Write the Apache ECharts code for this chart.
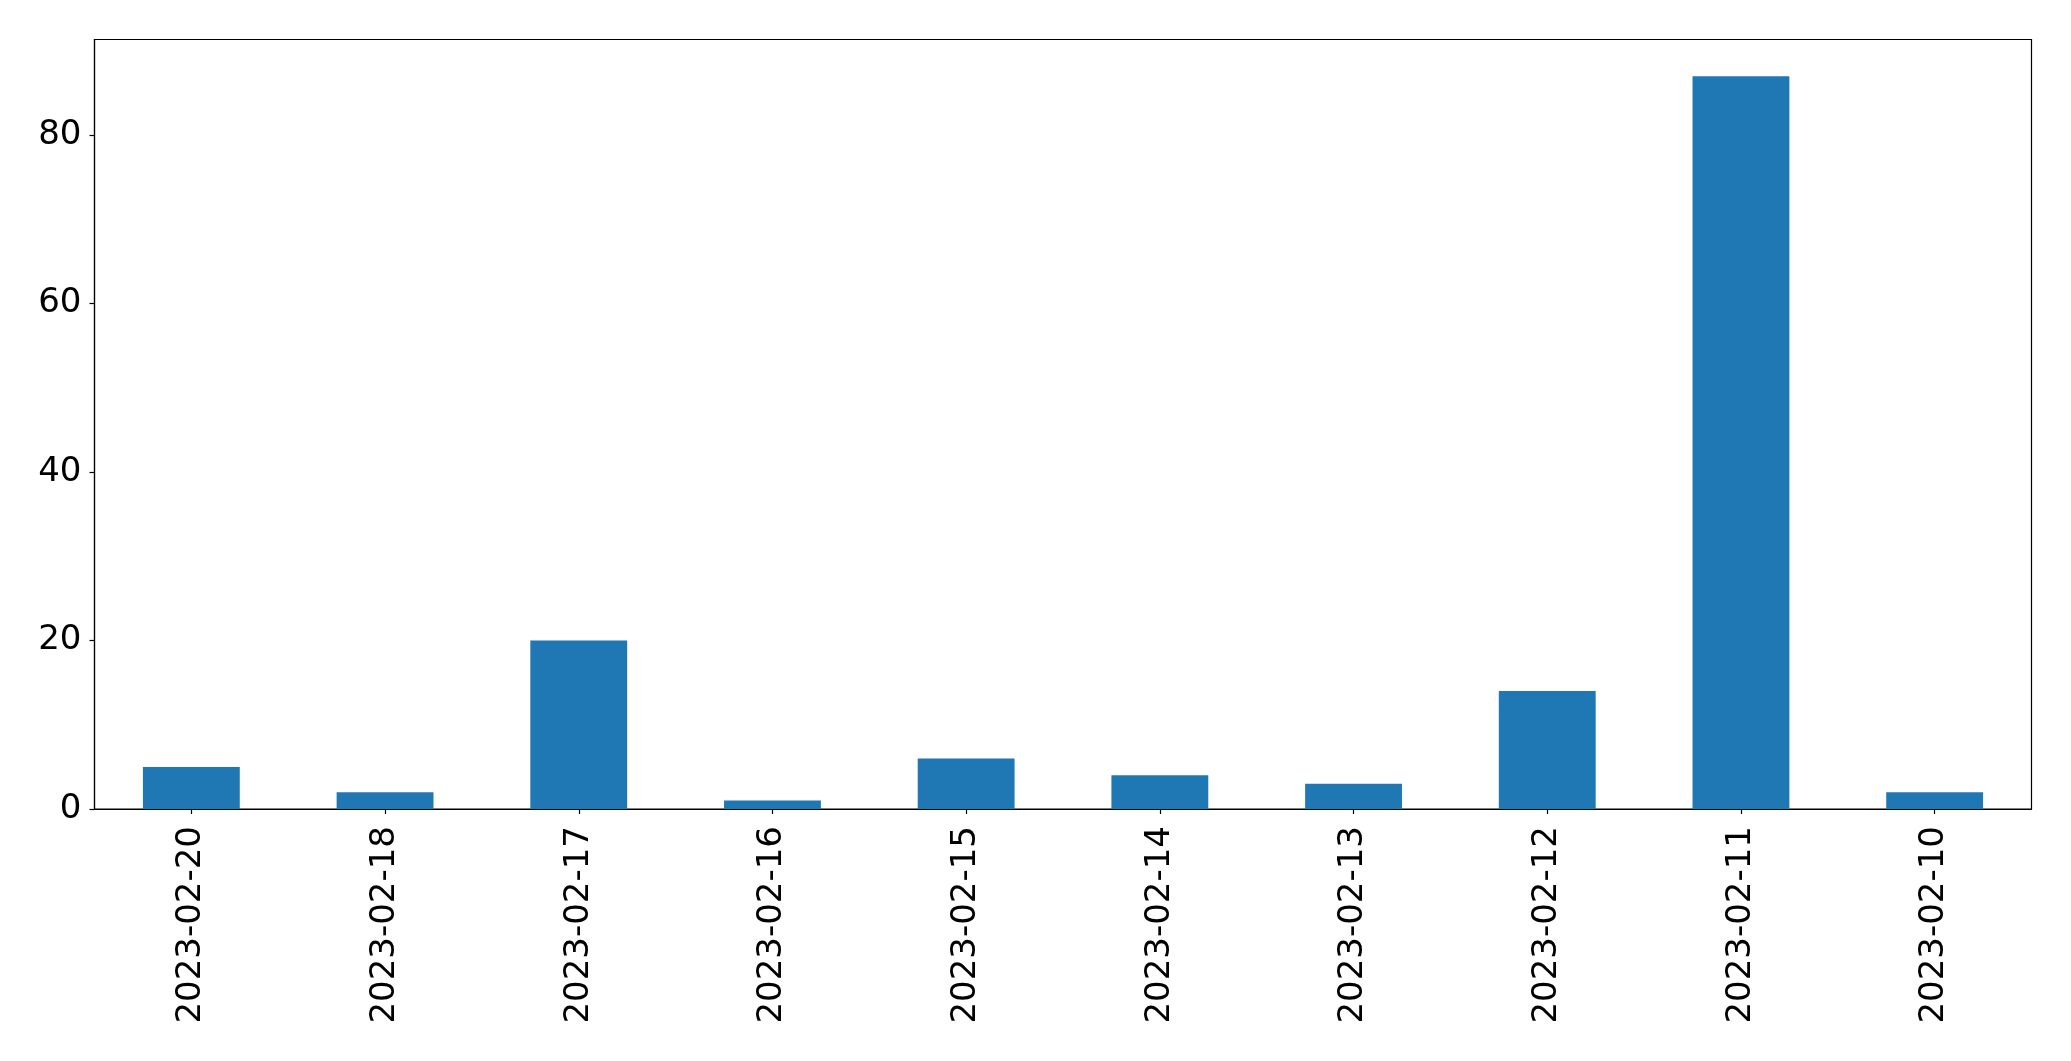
<!DOCTYPE html>
<html>
<head>
<meta charset="utf-8">
<script src="https://cdn.jsdelivr.net/npm/echarts@6/dist/echarts.min.js"></script>
<style>
html,body{margin:0;padding:0;background:#fff;}
#chart{width:2071px;height:1061px;}
</style>
</head>
<body>
<div id="chart"></div>
<script>
const categories = ['2023-02-20','2023-02-18','2023-02-17','2023-02-16','2023-02-15','2023-02-14','2023-02-13','2023-02-12','2023-02-11','2023-02-10'];
const values = [5, 2, 20, 1, 6, 4, 3, 14, 87, 2];
const yTicks = [0, 20, 40, 60, 80];

const chart = echarts.init(document.getElementById('chart'), null, {renderer: 'canvas'});
const font = 'DejaVu Sans';
chart.setOption({
  animation: false,
  backgroundColor: '#fff',
  grid: {left: 94.5, right: 39.5, top: 39.5, bottom: 252, show: true, borderColor: '#000', borderWidth: 1.2, backgroundColor: 'transparent'},
  xAxis: {
    type: 'category',
    data: categories,
    boundaryGap: true,
    axisLine: {show: true, lineStyle: {color: '#000', width: 1.2}},
    axisTick: {show: true, alignWithLabel: true, length: 5, lineStyle: {color: '#000', width: 1.2}},
    axisLabel: {rotate: 90, margin: 17, fontFamily: font, fontSize: 34, color: '#000', interval: 0},
    splitLine: {show: false}
  },
  yAxis: {
    type: 'value',
    min: 0,
    max: 91.35,
    interval: 20,
    axisLine: {show: true, lineStyle: {color: '#000', width: 1.2}},
    axisTick: {show: true, length: 5, customValues: yTicks, lineStyle: {color: '#000', width: 1.2}},
    axisLabel: {margin: 13, fontFamily: font, fontSize: 34, color: '#000', customValues: yTicks, padding: [8, 0, 0, 0]},
    splitLine: {show: false}
  },
  series: [{
    type: 'bar',
    data: values,
    barWidth: '50%',
    itemStyle: {color: '#1f77b4'}
  }]
});
</script>
</body>
</html>
